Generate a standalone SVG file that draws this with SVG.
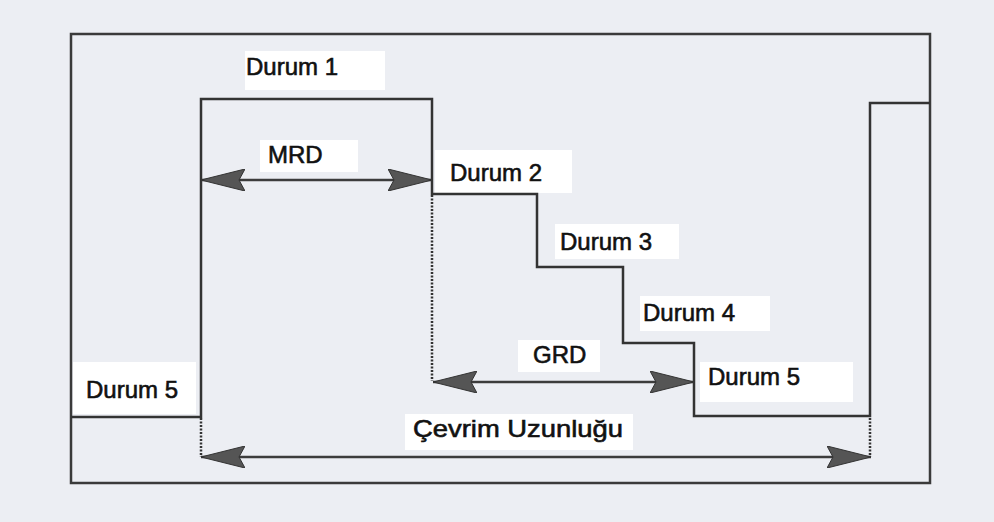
<svg xmlns="http://www.w3.org/2000/svg" width="994" height="522" viewBox="0 0 994 522">
<defs>
<style>
.bg{fill:#eceef3}
.frame{fill:none;stroke:#3a3a3a;stroke-width:2.5}
.sig{fill:none;stroke:#333;stroke-width:2.5;stroke-linejoin:miter}
.dot{fill:none;stroke:#333;stroke-width:2.5;stroke-dasharray:2 1.5}
.dim{fill:none;stroke:#3c3c3c;stroke-width:2.5}
.box{fill:#ffffff}
.lbl{font-family:"Liberation Sans",Arial,sans-serif;font-size:24px;fill:#111;stroke:#111;stroke-width:0.6}
</style>
<marker id="ah" viewBox="0 0 44 22" refX="44" refY="11" markerWidth="44" markerHeight="22" markerUnits="userSpaceOnUse" orient="auto-start-reverse">
<path d="M0,0 L44,11 L0,22 L6,11 Z" fill="#555" stroke="#333" stroke-width="1"/>
</marker>
</defs>
<rect class="bg" x="0" y="0" width="994" height="522"/>
<rect class="frame" x="71" y="34" width="859" height="449"/>

<g id="labels-bg">
<rect class="box" x="245" y="51" width="140" height="39"/>
<rect class="box" x="260" y="140" width="98" height="32"/>
<rect class="box" x="435" y="150" width="137" height="43"/>
<rect class="box" x="555" y="224" width="124" height="35"/>
<rect class="box" x="640" y="296" width="130" height="35"/>
<rect class="box" x="518" y="340" width="82" height="32"/>
<rect class="box" x="700" y="362" width="153" height="40"/>
<rect class="box" x="73" y="362" width="123" height="52"/>
<rect class="box" x="405" y="414" width="228" height="36"/>
</g>

<g id="connectors">
<path id="signal" class="sig" d="M71,417 H201 V99 H432 V194 H537 V267 H623 V343 H694 V416 H870 V103 H930"/>
<path class="dot" d="M201,418 V457"/>
<path class="dot" d="M432,195 V381"/>
<path class="dot" d="M870,418 V457"/>
<path id="mrd-arrow" class="dim" d="M201,180 H432" marker-start="url(#ah)" marker-end="url(#ah)"/>
<path id="grd-arrow" class="dim" d="M433,382 H694" marker-start="url(#ah)" marker-end="url(#ah)"/>
<path id="cevrim-arrow" class="dim" d="M201,457 H871" marker-start="url(#ah)" marker-end="url(#ah)"/>
</g>

<g id="durum1"><text class="lbl" x="246" y="75">Durum 1</text></g>
<g id="mrd"><text class="lbl" x="268" y="163">MRD</text></g>
<g id="durum2"><text class="lbl" x="450" y="181">Durum 2</text></g>
<g id="durum3"><text class="lbl" x="560" y="250">Durum 3</text></g>
<g id="durum4"><text class="lbl" x="643" y="321">Durum 4</text></g>
<g id="grd"><text class="lbl" x="533" y="363">GRD</text></g>
<g id="durum5-right"><text class="lbl" x="708" y="385">Durum 5</text></g>
<g id="durum5-left"><text class="lbl" x="86" y="398">Durum 5</text></g>
<g id="cevrim"><text class="lbl" x="413" y="437" textLength="210" lengthAdjust="spacingAndGlyphs">Çevrim Uzunluğu</text></g>
</svg>
